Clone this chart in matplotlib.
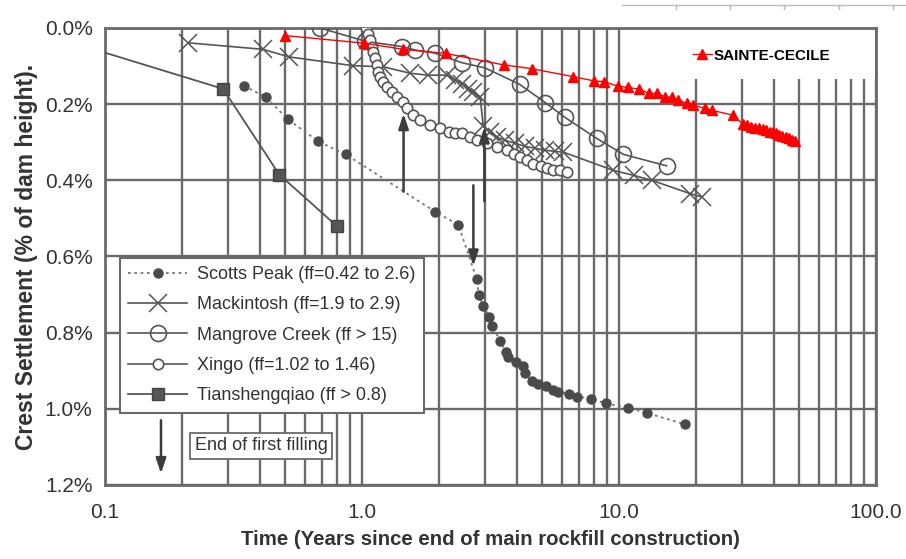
import matplotlib
matplotlib.use("Agg")
import matplotlib.pyplot as plt
from matplotlib.lines import Line2D
from matplotlib.patches import Rectangle
from matplotlib.ticker import FixedLocator, NullFormatter, LogLocator

plt.rcParams['font.family'] = ['Liberation Sans', 'DejaVu Sans']

# ---------------- data (percent of dam height vs years) ----------------
sc_x = [0.50, 1.02, 1.44, 2.12, 3.55, 4.57, 6.64, 7.99, 8.76, 9.9, 10.8, 12.0, 13.1, 14.1,
        15.1, 16.0, 17.0, 18.3, 19.4, 21.5, 22.9, 27.7, 30.4, 31.5, 32.6, 33.8, 35.0, 36.2,
        37.3, 38.5, 39.6, 40.8, 42.0, 43.2, 44.5, 45.8, 47.0, 48.3]
sc_y = [0.020, 0.040, 0.056, 0.067, 0.097, 0.107, 0.128, 0.139, 0.141, 0.153, 0.156, 0.161,
        0.172, 0.172, 0.181, 0.182, 0.189, 0.198, 0.202, 0.211, 0.216, 0.229, 0.253, 0.256,
        0.259, 0.262, 0.264, 0.266, 0.269, 0.272, 0.274, 0.277, 0.280, 0.284, 0.287, 0.290,
        0.294, 0.298]

scotts_x = [0.347, 0.423, 0.514, 0.676, 0.864, 1.92, 2.37, 2.79, 2.84, 2.96, 3.13, 3.21, 3.44,
            3.63, 3.71, 3.97, 4.22, 4.31, 4.57, 4.85, 5.2, 5.55, 5.8, 6.4, 6.83, 7.76, 8.9,
            10.8, 12.85, 18.1]
scotts_y = [0.152, 0.182, 0.240, 0.298, 0.332, 0.482, 0.517, 0.659, 0.700, 0.729, 0.760, 0.782,
            0.821, 0.852, 0.865, 0.878, 0.887, 0.907, 0.926, 0.935, 0.939, 0.951, 0.955, 0.962,
            0.968, 0.973, 0.986, 0.997, 1.011, 1.041]

mack_x = [0.21, 0.41, 0.52, 0.92, 1.21, 1.54, 1.81, 2.14, 2.30, 2.44, 2.59, 2.71, 2.88, 2.96,
          3.15, 3.35, 3.60, 3.94, 4.31, 4.71, 5.16, 5.64, 6.06, 9.5, 11.4, 13.4, 18.9, 21.0]
mack_y = [0.039, 0.056, 0.076, 0.099, 0.102, 0.119, 0.124, 0.124, 0.137, 0.146, 0.159, 0.168,
          0.181, 0.258, 0.274, 0.287, 0.295, 0.303, 0.311, 0.316, 0.321, 0.324, 0.326, 0.374,
          0.387, 0.400, 0.435, 0.444]

mang_x = [0.686, 1.03, 1.43, 1.61, 1.92, 2.44, 3.01, 4.10, 5.16, 6.16, 8.18, 10.4, 15.3]
mang_y = [0.000, 0.035, 0.049, 0.058, 0.066, 0.091, 0.105, 0.148, 0.196, 0.235, 0.290, 0.332, 0.362]

xingo_x = [1.04, 1.055, 1.07, 1.09, 1.10, 1.12, 1.14, 1.15, 1.17, 1.21, 1.25, 1.31, 1.37, 1.44,
           1.49, 1.58, 1.68, 1.84, 2.01, 2.17, 2.30, 2.44, 2.63, 2.79, 3.05, 3.34, 3.66, 3.90,
           4.12, 4.40, 4.64, 4.95, 5.23, 5.55, 5.89, 6.25]
xingo_y = [0.000, 0.016, 0.032, 0.050, 0.063, 0.079, 0.097, 0.116, 0.129, 0.142, 0.155, 0.168,
           0.182, 0.195, 0.210, 0.229, 0.242, 0.255, 0.264, 0.273, 0.275, 0.277, 0.286, 0.295,
           0.303, 0.312, 0.321, 0.330, 0.339, 0.347, 0.356, 0.363, 0.369, 0.372, 0.374, 0.378]

tian_x = [0.10, 0.288, 0.476, 0.80]
tian_y = [0.065, 0.160, 0.385, 0.521]

y_ticks = [0.0, 0.2, 0.4, 0.6, 0.8, 1.0, 1.2]
y_labels = ["0.0%", "0.2%", "0.4%", "0.6%", "0.8%", "1.0%", "1.2%"]
x_ticks = [0.1, 1.0, 10.0, 100.0]
x_labels = ["0.1", "1.0", "10.0", "100.0"]

# ---------------- figure ----------------
fig = plt.figure(figsize=(9.06, 5.59), dpi=100)
ax = fig.add_axes([0.116, 0.1324, 0.851, 0.8176])
ax.set_xscale('log')
ax.set_xlim(0.1, 100)
ax.set_ylim(1.2, 0.0)
ax.set_axisbelow(True)

gc = '#6a6a6a'
ax.xaxis.set_major_locator(FixedLocator(x_ticks))
ax.xaxis.set_minor_locator(LogLocator(base=10, subs=range(2, 10)))
ax.xaxis.set_minor_formatter(NullFormatter())
ax.set_xticklabels(x_labels)
ax.set_yticks(y_ticks)
ax.set_yticklabels(y_labels)
ax.grid(True, which='both', axis='x', color=gc, lw=1.7)
ax.grid(True, which='major', axis='y', color=gc, lw=1.7)
ax.tick_params(which='both', length=0)
ax.tick_params(axis='y', labelsize=15, pad=9, labelcolor='#333333')
ax.tick_params(axis='x', labelsize=15, pad=13, labelcolor='#333333')
for s in ax.spines.values():
    s.set_color(gc)
    s.set_linewidth(2)

# white patch behind SAINTE-CECILE legend
ax.add_patch(Rectangle((0.67, 0.888), 0.329, 0.11, transform=ax.transAxes,
                       facecolor='white', edgecolor='none', zorder=1))

lc = '#555555'
l_sp, = ax.plot(scotts_x, scotts_y, ls=(0, (1.5, 2)), color='#777777', lw=1.3,
                marker='o', ms=6.5, mfc='#4a4a4a', mec='#4a4a4a', zorder=3)
l_ma, = ax.plot(mack_x, mack_y, ls='-', color=lc, lw=1.2, marker='x', ms=13, mew=1.1,
                mec='#555555', zorder=3)
l_mg, = ax.plot(mang_x, mang_y, ls='-', color=lc, lw=1.2, marker='o', ms=11.5, mfc='none',
                mec='#555555', mew=1.2, zorder=3)
l_xi, = ax.plot(xingo_x, xingo_y, ls='-', color=lc, lw=1.2, marker='o', ms=7.5, mfc='white',
                mec='#555555', mew=1.2, zorder=3)
l_ti, = ax.plot(tian_x, tian_y, ls='-', color=lc, lw=1.3, marker='s', ms=8, mfc='#555555',
                mec='#444444', markevery=[1, 2, 3], zorder=3)
l_sc, = ax.plot(sc_x, sc_y, ls='-', color='red', lw=1.0, marker='^', ms=6.5, mfc='red',
                mec='red', zorder=4)

# arrows (end of first filling)
ap = dict(arrowstyle='-|>,head_length=0.9,head_width=0.3', color='#3c3c3c', lw=1.8,
          shrinkA=0, shrinkB=0)
ax.annotate('', xy=(1.45, 0.225), xytext=(1.45, 0.43), arrowprops=ap, zorder=5)
ax.annotate('', xy=(2.71, 0.625), xytext=(2.71, 0.413), arrowprops=ap, zorder=5)
ax.annotate('', xy=(2.99, 0.26), xytext=(2.99, 0.455), arrowprops=ap, zorder=5)
ax.annotate('', xy=(0.165, 1.17), xytext=(0.165, 1.03), arrowprops=ap, zorder=5)

ax.text(0.405, 1.097, 'End of first filling', ha='center', va='center', fontsize=13,
        color='#333333', zorder=6,
        bbox=dict(boxstyle='square,pad=0.25', facecolor='white', edgecolor=gc, lw=1.3))

leg = ax.legend([l_sp, l_ma, l_mg, l_xi, l_ti],
                ['Scotts Peak (ff=0.42 to 2.6)', 'Mackintosh (ff=1.9 to 2.9)',
                 'Mangrove Creek (ff > 15)', 'Xingo (ff=1.02 to 1.46)',
                 'Tianshengqiao (ff > 0.8)'],
                loc='upper left', bbox_to_anchor=(0.019, 0.497), fontsize=13,
                handlelength=3.3, labelspacing=0.74, borderpad=0.45, handletextpad=0.55,
                borderaxespad=0, fancybox=False, framealpha=1, edgecolor=gc,
                labelcolor='#333333')
leg.get_frame().set_linewidth(1.5)
ax.add_artist(leg)

sc_handle = Line2D([], [], color='red', lw=1.0, marker='^', ms=6.5, mfc='red', mec='red')
leg2 = ax.legend([sc_handle], ['SAINTE-CECILE'], loc='upper left',
                 bbox_to_anchor=(0.745, 0.985), frameon=False,
                 handlelength=1.2, handletextpad=0.15, prop={'weight': 'bold', 'size': 11})

ax.set_xlabel('Time (Years since end of main rockfill construction)', fontsize=14.7,
              fontweight='bold', color='#333333', labelpad=6)
ax.set_ylabel('Crest Settlement (% of dam height).', fontsize=16.5, fontweight='bold',
              color='#333333', labelpad=5)

# stray overlay line at the very top right of the picture
fig.add_artist(Line2D([622 / 906, 1.0], [1 - 5 / 559, 1 - 5 / 559], color='#bbbbbb', lw=1))
for px in [676, 730, 784, 839, 893]:
    fig.add_artist(Line2D([px / 906, px / 906], [1 - 5 / 559, 1 - 9 / 559],
                          color='#bbbbbb', lw=1))

fig.savefig('out.png', dpi=100)
